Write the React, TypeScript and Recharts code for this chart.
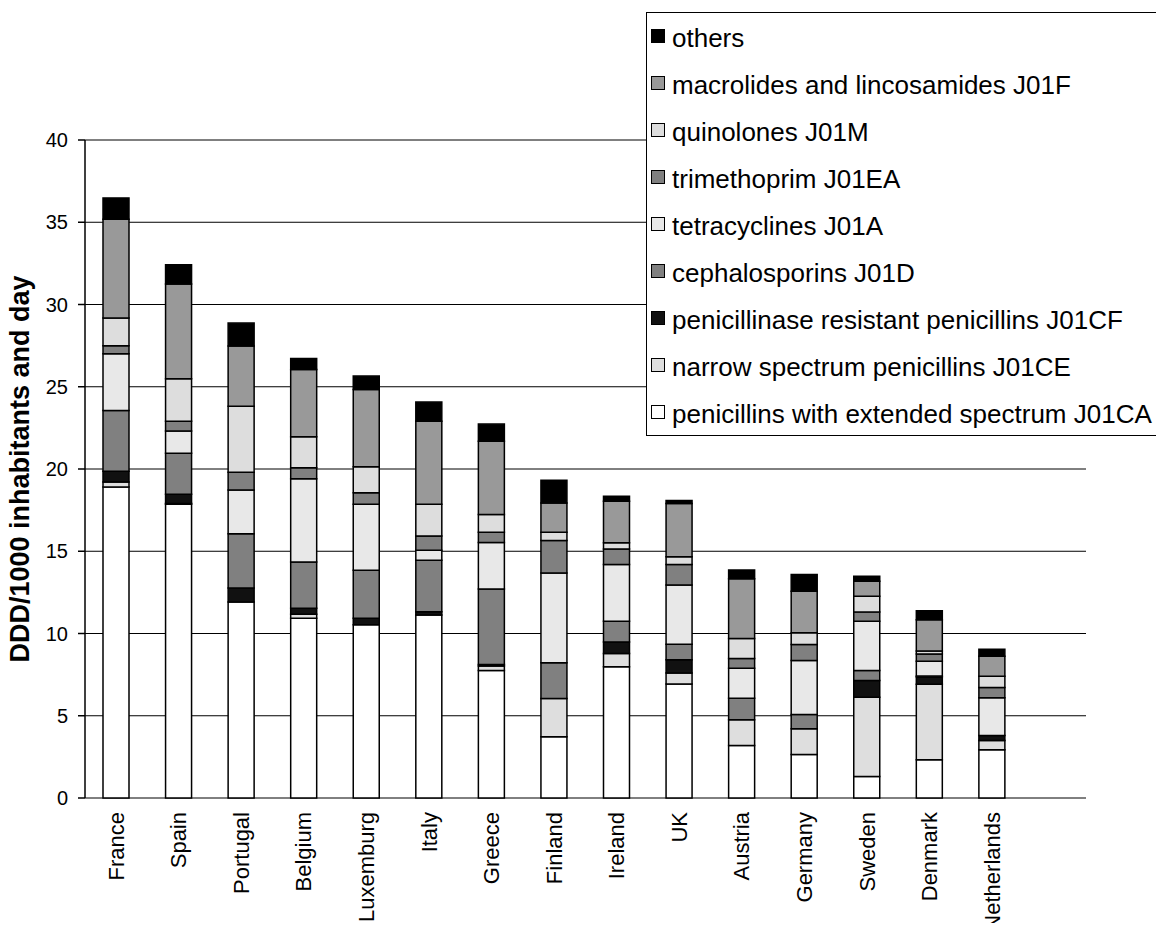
import React from 'react';
import { BarChart, Bar, XAxis, YAxis, CartesianGrid, Legend, Label } from 'recharts';

const FONT = '"Liberation Sans", Arial, sans-serif';

const countries = ['France', 'Spain', 'Portugal', 'Belgium', 'Luxemburg', 'Italy', 'Greece', 'Finland', 'Ireland', 'UK', 'Austria', 'Germany', 'Sweden', 'Denmark', 'Netherlands'];

// DDD/1000 inhabitants and day (bottom segment first)
const extendedJ01CA = [18.9, 17.86, 11.92, 10.93, 10.53, 11.13, 7.75, 3.72, 7.98, 6.93, 3.19, 2.65, 1.3, 2.32, 2.93];
const narrowJ01CE = [0.31, 0.05, 0, 0.24, 0, 0, 0.27, 2.33, 0.81, 0.67, 1.56, 1.56, 4.83, 4.59, 0.57];
const resistantJ01CF = [0.65, 0.55, 0.84, 0.37, 0.4, 0.19, 0.1, 0, 0.7, 0.8, 0, 0, 1.02, 0.45, 0.3];
const cephalosporinsJ01D = [3.7, 2.5, 3.3, 2.81, 2.92, 3.13, 4.59, 2.17, 1.26, 0.95, 1.31, 0.87, 0.6, 0.05, 0];
const tetracyclinesJ01A = [3.44, 1.35, 2.67, 5.06, 4.0, 0.61, 2.82, 5.46, 3.44, 3.6, 1.82, 3.28, 3.0, 0.91, 2.3];
const trimethoprimJ01EA = [0.5, 0.6, 1.08, 0.67, 0.71, 0.87, 0.62, 1.97, 0.95, 1.25, 0.6, 0.97, 0.55, 0.44, 0.61];
const quinolonesJ01M = [1.68, 2.57, 4.01, 1.88, 1.58, 1.92, 1.08, 0.5, 0.37, 0.47, 1.22, 0.71, 0.97, 0.18, 0.69];
const macrolidesJ01F = [6.0, 5.77, 3.66, 4.09, 4.7, 5.06, 4.45, 1.79, 2.53, 3.23, 3.63, 2.53, 0.91, 1.89, 1.22];
const others = [1.3, 1.16, 1.39, 0.67, 0.81, 1.16, 1.05, 1.37, 0.3, 0.18, 0.53, 1.01, 0.3, 0.55, 0.42];

const yTicks = [0, 5, 10, 15, 20, 25, 30, 35, 40];
const slotTicks = [0, 1, 2, 3, 4, 5, 6, 7, 8, 9, 10, 11, 12, 13, 14, 15, 16];

const series = [
  { key: 'ext', name: 'penicillins with extended spectrum J01CA', values: extendedJ01CA, fill: '#ffffff' },
  { key: 'narrow', name: 'narrow spectrum penicillins J01CE', values: narrowJ01CE, fill: '#dedede' },
  { key: 'resist', name: 'penicillinase resistant penicillins J01CF', values: resistantJ01CF, fill: '#111111' },
  { key: 'ceph', name: 'cephalosporins J01D', values: cephalosporinsJ01D, fill: '#808080' },
  { key: 'tetra', name: 'tetracyclines J01A', values: tetracyclinesJ01A, fill: '#e8e8e8' },
  { key: 'trim', name: 'trimethoprim J01EA', values: trimethoprimJ01EA, fill: '#808080' },
  { key: 'quin', name: 'quinolones J01M', values: quinolonesJ01M, fill: '#dddddd' },
  { key: 'macro', name: 'macrolides and lincosamides J01F', values: macrolidesJ01F, fill: '#999999' },
  { key: 'others', name: 'others', values: others, fill: '#000000' },
];

// one empty slot at the end, like the original
const data = [...countries, ''].map((country, i) => {
  const row: Record<string, any> = { country };
  series.forEach(s => { row[s.key] = s.values[i]; });
  return row;
});

const CountryTick = (props: any) => {
  const { x, y, payload } = props;
  return (
    <text
      x={x}
      y={y}
      transform={`rotate(-90 ${x} ${y})`}
      textAnchor="end"
      dominantBaseline="central"
      fontSize={22}
      fontFamily={FONT}
      fill="#000"
    >
      {payload.value}
    </text>
  );
};

const YTitle = (props: any) => {
  const { viewBox } = props;
  const cx = 20;
  const cy = viewBox.y + viewBox.height / 2;
  return (
    <text
      x={cx}
      y={cy}
      transform={`rotate(-90 ${cx} ${cy})`}
      textAnchor="middle"
      dominantBaseline="central"
      fontSize={27}
      fontWeight="bold"
      fontFamily={FONT}
      fill="#000"
    >
      DDD/1000 inhabitants and day
    </text>
  );
};

const LegendBox = () => (
  <div
    style={{
      width: 516,
      height: 424,
      boxSizing: 'border-box',
      border: '1.5px solid #000',
      background: '#fff',
      paddingTop: 2,
      fontFamily: FONT,
      fontSize: 26,
      color: '#000',
    }}
  >
    {[...series].reverse().map(s => (
      <div key={s.key} style={{ height: 47, display: 'flex', alignItems: 'center', whiteSpace: 'nowrap' }}>
        <span
          style={{
            display: 'inline-block',
            flex: 'none',
            width: 12,
            height: 12,
            marginLeft: 4,
            marginRight: 7,
            marginTop: -6,
            background: s.fill,
            border: '1.5px solid #000',
          }}
        />
        <span>{s.name}</span>
      </div>
    ))}
  </div>
);

export default function App() {
  return (
    <div style={{ margin: -8, width: 1164, height: 931, background: '#fff' }}>
      <BarChart width={1164} height={931} data={data} margin={{ top: 140, right: 78, bottom: 0, left: 0 }}>
        <CartesianGrid vertical={false} stroke="#000" strokeWidth={1} />
        <XAxis
          xAxisId="slots"
          type="number"
          domain={[0, 16]}
          ticks={slotTicks}
          allowDataOverflow
          height={0}
          tick={false}
          tickSize={8}
          axisLine={{ stroke: '#000', strokeWidth: 1.5 }}
          tickLine={{ stroke: '#000', strokeWidth: 1.5 }}
        />
        <XAxis
          dataKey="country"
          height={133}
          interval={0}
          axisLine={false}
          tickLine={false}
          tickSize={8}
          tickMargin={6}
          tick={<CountryTick />}
        />
        <YAxis
          width={85}
          domain={[0, 40]}
          ticks={yTicks}
          interval={0}
          tickSize={7}
          tickMargin={10}
          axisLine={{ stroke: '#000', strokeWidth: 1.5 }}
          tickLine={{ stroke: '#000', strokeWidth: 1.5 }}
          tick={{ fill: '#000', fontSize: 20, fontFamily: FONT }}
        >
          <Label content={<YTitle />} />
        </YAxis>
        <YAxis
          yAxisId="frame"
          orientation="right"
          width={0}
          domain={[0, 40]}
          tick={false}
          tickLine={false}
          axisLine={{ stroke: '#888', strokeWidth: 1 }}
        />
        {series.map(s => (
          <Bar
            key={s.key}
            dataKey={s.key}
            name={s.name}
            stackId="a"
            fill={s.fill}
            stroke="#000"
            strokeWidth={1.5}
            barSize={26}
            isAnimationActive={false}
          />
        ))}
        <Legend
          layout="vertical"
          align="center"
          verticalAlign="middle"
          content={<LegendBox />}
          wrapperStyle={{ position: 'absolute', top: 12, left: 646, width: 516 }}
        />
      </BarChart>
    </div>
  );
}
